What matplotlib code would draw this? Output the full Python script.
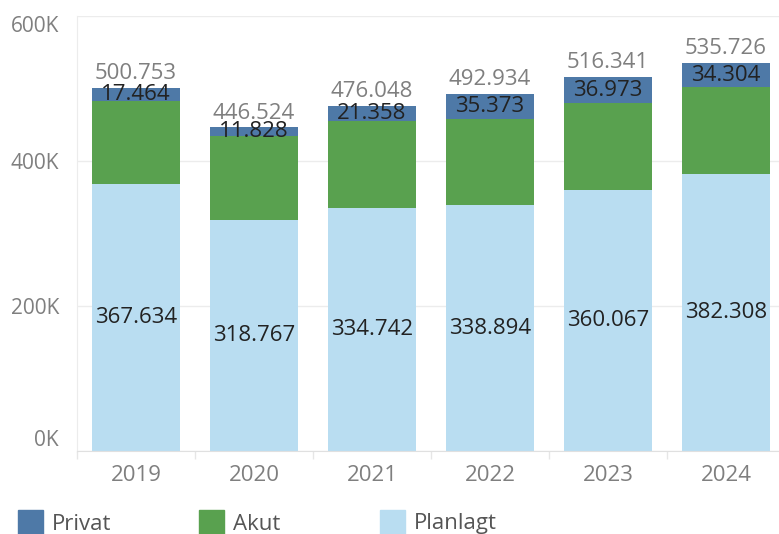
import matplotlib
matplotlib.use('Agg')
import matplotlib.pyplot as plt
import numpy as np

plt.rcParams['font.family'] = ['Open Sans', 'DejaVu Sans']

# data
years = ['2019', '2020', '2021', '2022', '2023', '2024']
planlagt = [367634, 318767, 334742, 338894, 360067, 382308]
akut = [115655, 115929, 119948, 118667, 119301, 119114]
privat = [17464, 11828, 21358, 35373, 36973, 34304]
y_ticks = [0, 200000, 400000, 600000]
y_tick_labels = ['0K', '200K', '400K', '600K']

c_privat = '#4e79a7'
c_akut = '#59a14f'
c_planlagt = '#b9ddf1'
grey_text = '#7f7f7f'

def fmt(v):
    return f'{v:,}'.replace(',', '.')

W, H = 779, 534
fig = plt.figure(figsize=(W / 100, H / 100), dpi=100)
ax = fig.add_axes([77 / W, 83 / H, 708 / W, 435 / H])

x = np.arange(len(years))
pl = np.array(planlagt)
ak = np.array(akut)
pr = np.array(privat)
bw = 0.746

ax.bar(x, pl, bw, color=c_planlagt, zorder=2)
ax.bar(x, ak, bw, bottom=pl, color=c_akut, zorder=2)
ax.bar(x, pr, bw, bottom=pl + ak, color=c_privat, zorder=2)

fs = 16
for i in range(len(years)):
    ax.text(x[i], pl[i] / 2, fmt(planlagt[i]), ha='center', va='center',
            fontsize=fs, color='#222222', zorder=3)
    ax.text(x[i], pl[i] + ak[i] + pr[i] / 2, fmt(privat[i]), ha='center', va='center',
            fontsize=fs, color='#222222', zorder=3)
    tot = planlagt[i] + akut[i] + privat[i]
    ax.text(x[i], tot + 5000, fmt(tot), ha='center', va='bottom',
            fontsize=fs, color=grey_text, zorder=3)

ax.set_xlim(-0.5, 5.5)
ax.set_ylim(0, 600000)
ax.set_yticks(y_ticks)
ax.set_yticklabels(y_tick_labels)
ylabs = ax.get_yticklabels()
ylabs[0].set_va('bottom')
ylabs[-1].set_va('top')
ax.set_xticks(x)
ax.set_xticklabels(years)
ax.set_xticks(np.arange(len(years)) - 0.5, minor=True)
ax.tick_params(axis='x', which='major', length=0, pad=10, labelsize=fs, labelcolor=grey_text)
ax.tick_params(axis='x', which='minor', length=6, color='#e6e6e6', width=1)
ax.tick_params(axis='y', length=0, pad=13, labelsize=15, labelcolor=grey_text)
ax.grid(axis='y', color='#ececec', linewidth=1, zorder=0)

for s in ['top', 'right']:
    ax.spines[s].set_visible(False)
ax.spines['left'].set_color('#ececec')
ax.spines['bottom'].set_color('#e0e0e0')

# legend
items = [('Privat', c_privat, 18), ('Akut', c_akut, 199), ('Planlagt', c_planlagt, 380)]
for name, col, px in items:
    fig.patches.append(plt.Rectangle((px / W, 0), 25 / W, 24 / H, transform=fig.transFigure,
                                     color=col, figure=fig))
    fig.text((px + 34) / W, 10 / H, name, fontsize=16, color='#555555', va='center')

fig.savefig('out.png', dpi=100)
